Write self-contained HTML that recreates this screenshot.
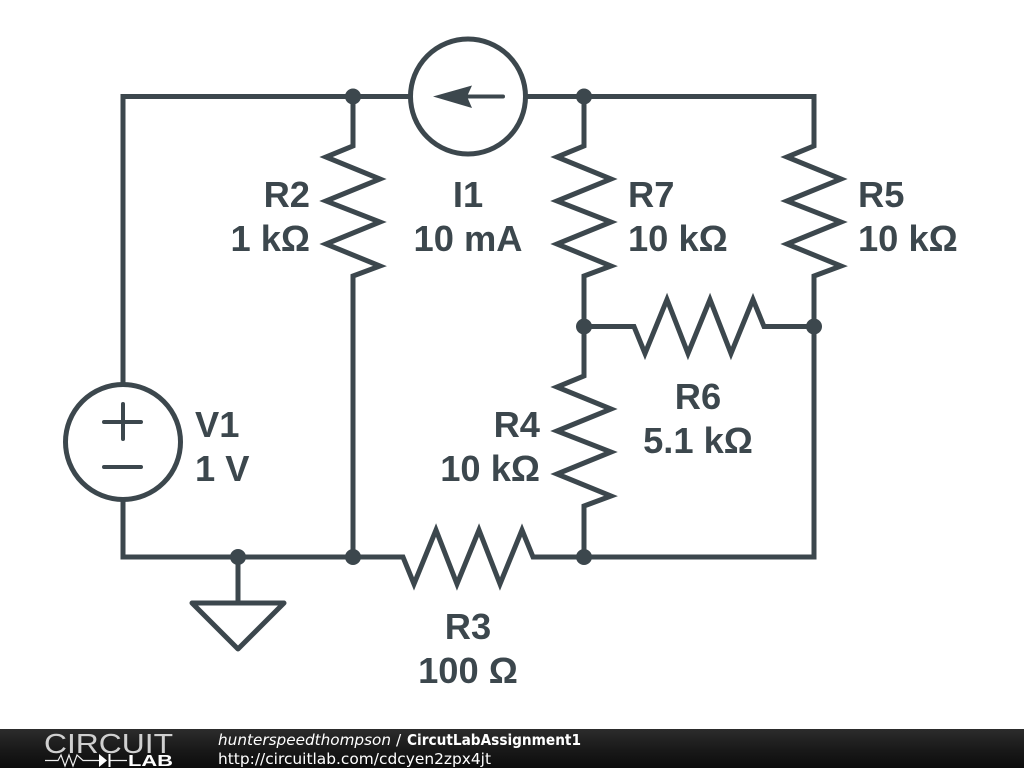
<!DOCTYPE html>
<html><head><meta charset="utf-8"><style>
html,body{margin:0;padding:0;background:#fff;width:1024px;height:768px;overflow:hidden}
svg{display:block}
</style></head><body>
<svg width="1024" height="768" viewBox="0 0 1024 768" xmlns="http://www.w3.org/2000/svg">
<defs><linearGradient id="g" x1="0" y1="0" x2="0" y2="1"><stop offset="0" stop-color="#2c2c2c"/><stop offset="0.5" stop-color="#1a1a1a"/><stop offset="1" stop-color="#0c0c0c"/></linearGradient></defs>
<g fill="none" stroke="#3c474d" stroke-width="5" stroke-linejoin="miter" stroke-linecap="butt">
<path d="M410 96.500H123V384M123 500V557H403L414 584L436 530L457 584L479 530L500 584L522 530L533 557H814V326.500"/>
<path d="M527 96.500H814V146L787 157L841 179L787 201L841 222L787 244L841 266L814 276V326.500"/>
<path d="M353 96.500V146L326 157L380 179L326 201L380 222L326 244L380 266L353 276V557"/>
<path d="M584 96.500V146L557 157L611 179L557 201L611 222L557 244L611 266L584 276V376L557 387L611 409L557 431L611 452L557 474L611 496L584 506V557"/>
<path d="M584 326.500H634L645 353.500L667 299.500L688 353.500L710 299.500L731 353.500L753 299.500L764 326.500H814"/>
<path d="M238 557V603M192 603H284L238 649Z" stroke-linejoin="round"/>
<circle cx="468" cy="96.500" r="57.500"/>
<circle cx="123" cy="442" r="57.500"/>
<path d="M104 422H141M123 404V439M104 467H141" stroke-width="4" stroke-linecap="round"/>
<path d="M468 96.500H503" stroke-width="4" stroke-linecap="round"/>
</g>
<path d="M433 96.500L472 85.500L467 96.500L472 108Z" fill="#3c474d"/>
<g fill="#3c474d">
<circle cx="353" cy="96.500" r="8"/><circle cx="584" cy="96.500" r="8"/>
<circle cx="584" cy="326.500" r="8"/><circle cx="814" cy="326.500" r="8"/>
<circle cx="238" cy="557" r="8"/><circle cx="353" cy="557" r="8"/><circle cx="584" cy="557" r="8"/>
</g>
<g fill="#3c474d" font-family="'Liberation Sans',sans-serif" font-weight="700" font-size="36.300">
<text x="310" y="207" text-anchor="end">R2</text><text x="310" y="251" text-anchor="end">1 kΩ</text>
<text x="468" y="207" text-anchor="middle">I1</text><text x="468" y="251" text-anchor="middle">10 mA</text>
<text x="628" y="207">R7</text><text x="628" y="251">10 kΩ</text>
<text x="858" y="207">R5</text><text x="858" y="251">10 kΩ</text>
<text x="698" y="409" text-anchor="middle">R6</text><text x="698" y="453" text-anchor="middle">5.1 kΩ</text>
<text x="540" y="437" text-anchor="end">R4</text><text x="540" y="481" text-anchor="end">10 kΩ</text>
<text x="195" y="437">V1</text><text x="195" y="481">1 V</text>
<text x="468" y="639" text-anchor="middle">R3</text><text x="468" y="683" text-anchor="middle">100 Ω</text>
</g>
<rect x="0" y="729" width="1024" height="39" fill="url(#g)"/>
<text x="44" y="753" font-family="'Liberation Sans',sans-serif" font-size="28" fill="#d0d0d0" textLength="129" lengthAdjust="spacingAndGlyphs">CIRCUIT</text>
<path d="M45 760.500H58L61 755L65 766L69 755L73 766L77 755L83 760.500H99M109 760.500H127" fill="none" stroke="#eee" stroke-width="1.200"/>
<path d="M99 754L107 760.500L99 767ZM108.500 754H110.500V767H108.500Z" fill="#fff"/>
<text x="128" y="766" font-family="'Liberation Sans',sans-serif" font-weight="700" font-size="16" fill="#fff" textLength="45" lengthAdjust="spacingAndGlyphs">LAB</text>
<g font-family="'DejaVu Sans',sans-serif" font-size="15.400" fill="#fff">
<text x="218" y="745" font-style="italic" textLength="173" lengthAdjust="spacingAndGlyphs">hunterspeedthompson</text>
<text x="396" y="745">/</text>
<text x="407" y="745" font-weight="700" textLength="174" lengthAdjust="spacingAndGlyphs">CircutLabAssignment1</text>
<text x="218" y="764" textLength="273" lengthAdjust="spacingAndGlyphs">http://circuitlab.com/cdcyen2zpx4jt</text>
</g>
</svg>
</body></html>
